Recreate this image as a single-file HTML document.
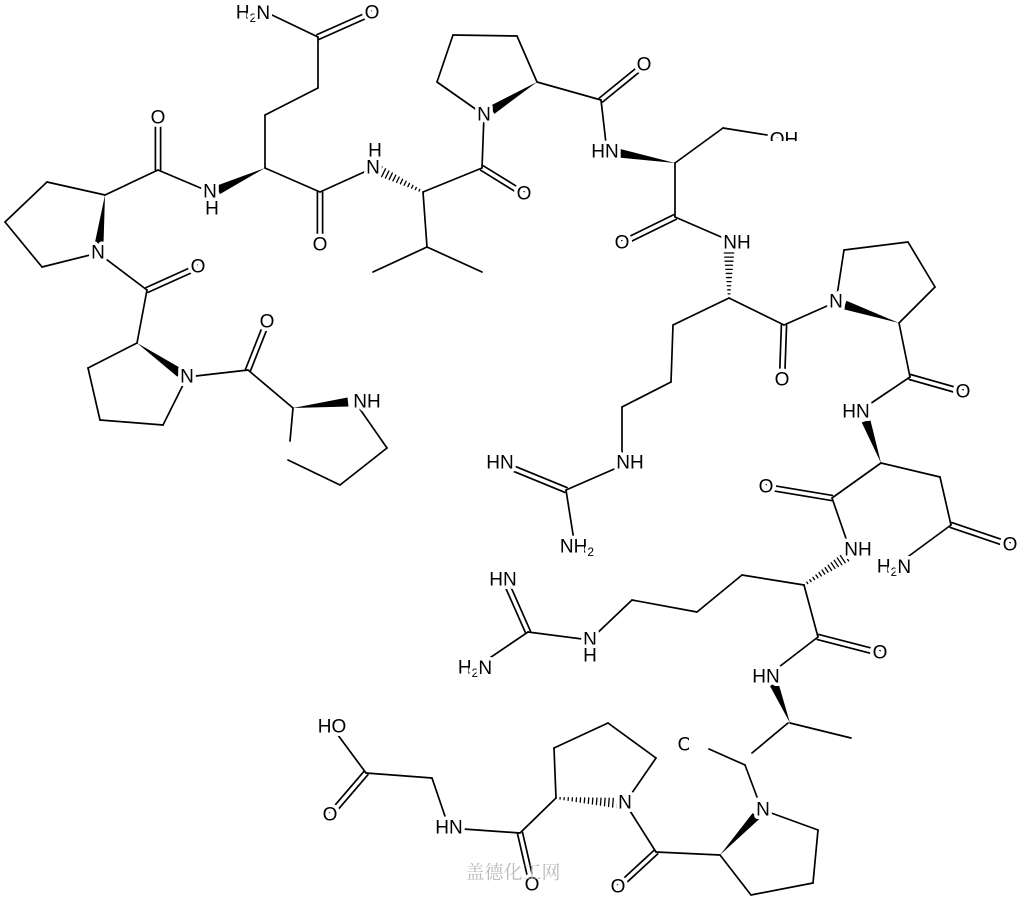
<!DOCTYPE html>
<html><head><meta charset="utf-8"><style>
html,body{margin:0;padding:0;background:#fff;}
svg{display:block;}
text{font-family:"Liberation Sans",Arial,sans-serif;font-size:19px;fill:#000;stroke:#fff;stroke-width:7px;paint-order:stroke;stroke-linejoin:round;text-anchor:middle;dominant-baseline:central;}
.wm{font-family:"Liberation Serif","Noto Serif CJK SC",serif;font-size:19px;fill:#bbb;stroke:none;}
</style></head><body>
<svg id="s" width="1024" height="900" viewBox="0 0 1024 900" xmlns="http://www.w3.org/2000/svg">
<g id="b" stroke="#000" stroke-width="1.7" fill="#000" stroke-linecap="round"></g>
<g id="t">
<text x="253" y="13">H<tspan font-size="12" dy="5">2</tspan><tspan dy="-5">N</tspan></text>
<text x="372" y="13">O</text>
<text x="158" y="118">O</text>
<text x="210" y="192">N</text><text x="212" y="209">H</text>
<text x="320" y="245">O</text>
<text x="373" y="168">N</text><text x="375" y="151">H</text>
<text x="524" y="194">O</text>
<text x="484" y="115">N</text>
<text x="198" y="267">O</text>
<text x="98" y="253">N</text>
<text x="267" y="322">O</text>
<text x="187" y="377">N</text>
<text x="367" y="402">NH</text>
<text x="644" y="65">O</text>
<text x="605" y="152">HN</text>
<text x="784" y="140">OH</text>
<text x="622" y="243">O</text>
<text x="737" y="243">NH</text>
<text x="782" y="380">O</text>
<text x="836" y="302">N</text>
<text x="963" y="392">O</text>
<text x="856" y="412">HN</text>
<text x="500" y="463">HN</text>
<text x="630" y="463">NH</text>
<text x="577" y="547">NH<tspan font-size="12" dy="5">2</tspan></text>
<text x="766" y="487">O</text>
<text x="858" y="550">NH</text>
<text x="1010" y="545">O</text>
<text x="894" y="567">H<tspan font-size="12" dy="5">2</tspan><tspan dy="-5">N</tspan></text>
<text x="503" y="580">HN</text>
<text x="590" y="640">N</text><text x="590" y="656">H</text>
<text x="475" y="668">H<tspan font-size="12" dy="5">2</tspan><tspan dy="-5">N</tspan></text>
<text x="880" y="653">O</text>
<text x="766" y="677">HN</text>
<text x="685" y="745">O</text>
<text x="763" y="810">N</text>
<text x="625" y="803">N</text>
<text x="618" y="887">O</text>
<text x="532" y="885">O</text>
<text x="449" y="828">HN</text>
<text x="332" y="727">HO</text>
<text x="330" y="815">O</text>
</g>
<rect x="768" y="141" width="40" height="12" fill="#fff"/>
<rect x="689" y="735" width="12" height="22" fill="#fff"/>
<text class="wm" x="513" y="873">盖德化工网</text>
</svg>
<script>
var B=[
['s',272,15,318,37],['d',318,37,372,13],['s',318,37,318,88],['s',318,88,265,115],['s',265,115,265,168],
['w',265,168,218,190],['s',210,192,158,170],['d',158,170,158,118],['s',158,170,105,195],
['s',105,195,47,182],['s',47,182,5,222],['s',5,222,42,267],['s',42,267,98,253],['w',105,195,99,245],
['s',98,253,147,290],['d',147,290,198,267],['s',147,290,137,343],
['s',137,343,88,368],['s',88,368,100,420],['s',100,420,163,425],['s',163,425,187,377],['w',137,343,180,373],
['s',187,377,248,370],['d',248,370,267,322],['s',248,370,293,408],['w',293,408,348,402],
['s',355,402,387,448],['s',387,448,340,485],['s',340,485,288,460],['s',293,408,290,441],
['s',265,168,320,192],['d',320,192,320,245],['s',320,192,373,168],
['h',423,192,380,171],['s',423,192,427,247],['s',427,247,373,272],['s',427,247,482,272],
['s',423,192,482,168],['d',482,168,524,194],['s',482,168,484,115],
['s',484,115,437,82],['s',437,82,453,35],['s',453,35,517,36],['s',517,36,537,82],['w',537,82,492,110],
['s',537,82,601,100],['d',601,100,644,65],['s',601,100,607,152],
['w',675,163,618,153],['s',675,163,723,128],['s',723,128,786,138],
['s',675,163,675,217],['d',675,217,622,243],['s',675,217,735,243],
['h',729,298,729,253],['s',729,298,784,325],['d',784,325,782,380],['s',784,325,836,302],
['s',836,302,844,250],['s',844,250,908,242],['s',908,242,935,287],['s',935,287,899,323],['w',899,323,845,305],
['s',899,323,910,377],['d',910,377,963,392],['s',910,377,858,412],
['w',881,463,866,421],['s',881,463,940,477],['s',940,477,951,525],['d',951,525,1010,545],['s',951,525,894,567],
['s',881,463,832,498],['d',832,498,766,487],['s',832,498,850,550],
['s',729,298,673,325],['s',673,325,671,382],['s',671,382,622,407],['s',622,407,622,463],
['s',628,463,566,490],['d',566,490,500,463],['s',566,490,575,547],
['h',804,585,846,557],['s',804,585,742,575],['s',742,575,697,612],['s',697,612,632,600],['s',632,600,590,640],
['s',590,640,528,632],['d',528,632,505,580],['s',528,632,475,668],
['s',804,585,818,637],['d',818,637,880,653],['s',818,637,766,677],
['w',790,723,774,684],['s',790,723,851,738],['s',788,723,752,753],['s',709,749,745,765],['s',745,765,757,797],
['s',763,810,818,830],['s',818,830,813,883],['s',813,883,751,895],['s',751,895,720,855],['w',720,855,756,816],
['s',720,855,656,852],['d',656,852,618,887],['s',656,852,625,803],
['s',625,803,656,758],['s',656,758,608,723],['s',608,723,554,748],['s',554,748,556,798],['h',556,798,617,803],
['s',556,798,520,833],['d',520,833,532,885],['s',520,833,449,828],
['s',449,828,432,778],['s',432,778,366,773],['s',366,773,332,727],['d',366,773,330,815]
];
var g=document.getElementById('b'),ns='http://www.w3.org/2000/svg';
function L(a,b,c,d){var e=document.createElementNS(ns,'line');e.setAttribute('x1',a);e.setAttribute('y1',b);e.setAttribute('x2',c);e.setAttribute('y2',d);g.appendChild(e);}
B.forEach(function(q){var t=q[0],x1=q[1],y1=q[2],x2=q[3],y2=q[4];var dx=x2-x1,dy=y2-y1,l=Math.sqrt(dx*dx+dy*dy),px=-dy/l,py=dx/l;
if(t=='s')L(x1,y1,x2,y2);
else if(t=='d'){L(x1+px*2.6,y1+py*2.6,x2+px*2.6,y2+py*2.6);L(x1-px*2.6,y1-py*2.6,x2-px*2.6,y2-py*2.6);}
else if(t=='w'){var p=document.createElementNS(ns,'polygon');p.setAttribute('points',x1+','+y1+' '+(x2+px*4.5)+','+(y2+py*4.5)+' '+(x2-px*4.5)+','+(y2-py*4.5));p.setAttribute('stroke','none');g.appendChild(p);}
else if(t=='h'){var n=Math.max(5,Math.round(l/4));for(var i=1;i<=n;i++){var f=i/n,cx=x1+dx*f,cy=y1+dy*f,w=0.5+4.2*f;var e=document.createElementNS(ns,'line');e.setAttribute('x1',cx+px*w);e.setAttribute('y1',cy+py*w);e.setAttribute('x2',cx-px*w);e.setAttribute('y2',cy-py*w);e.setAttribute('stroke-width','1.3');g.appendChild(e);}}
});
</script>
</body></html>
